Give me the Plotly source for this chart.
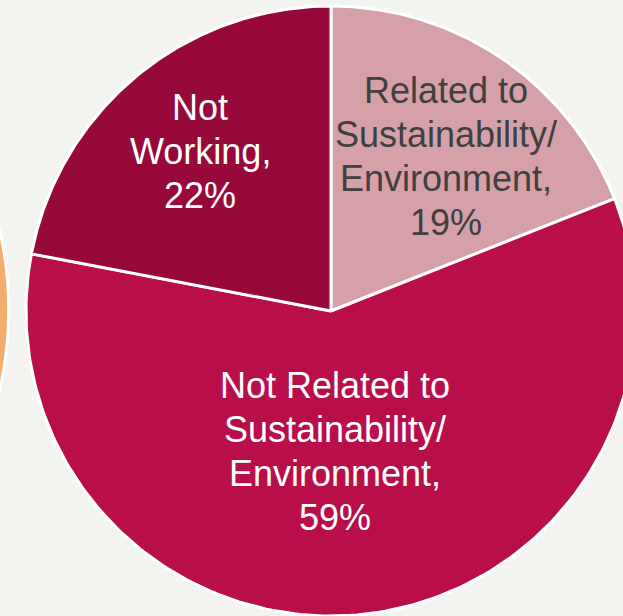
import numpy as np
import plotly.graph_objects as go

# Employment status shares (percent), clockwise from 12 o'clock
labels = ["Related to<br>Sustainability/<br>Environment",
          "Not Related to<br>Sustainability/<br>Environment",
          "Not<br>Working"]
values = [19, 59, 22]
colors = ["#D5A0A8", "#B80E49", "#96093A"]
text_colors = ["#404040", "#FFFFFF", "#FFFFFF"]

W, H = 623, 616
CX, CY, R = 331, 311, 305          # pie centre and radius in pixel units
BG = "#F3F4EF"
LINE_GAP = 44                      # spacing between label lines, px

fig = go.Figure()

# neighbouring pie, only its right rim shows at the left edge
NR = 360
fig.add_shape(type="circle", xref="x", yref="y",
              x0=8.7 - 2 * NR, x1=8.7, y0=310 - NR, y1=310 + NR,
              fillcolor="#F4AE6C", line=dict(color="white", width=3),
              layer="below")

fractions = np.array(values, dtype=float) / np.sum(values)
bounds = np.concatenate([[0.0], np.cumsum(fractions)]) * 2 * np.pi
label_pos = [(446, 156), (335, 451), (200, 151)]

for i in range(len(values)):
    theta = np.linspace(bounds[i], bounds[i + 1], 200)
    xs = np.concatenate([[CX], CX + R * np.sin(theta), [CX]])
    ys = np.concatenate([[CY], CY - R * np.cos(theta), [CY]])
    fig.add_trace(go.Scatter(
        x=xs, y=ys, mode="lines", fill="toself",
        fillcolor=colors[i], line=dict(color="white", width=3),
        hoverinfo="skip", showlegend=False))

    # label lines: category text, then its percentage
    lines = f"{labels[i]},<br>{values[i]}%".split("<br>")
    n = len(lines)
    for k, line in enumerate(lines):
        fig.add_annotation(
            x=label_pos[i][0],
            y=label_pos[i][1] + (k - (n - 1) / 2) * LINE_GAP,
            xref="x", yref="y", text=line, showarrow=False,
            xanchor="center", yanchor="middle", align="center",
            font=dict(family="Liberation Sans, Arial, sans-serif",
                      size=36, color=text_colors[i]))

fig.update_layout(
    width=W, height=H, margin=dict(l=0, r=0, t=0, b=0),
    paper_bgcolor=BG, plot_bgcolor=BG,
    xaxis=dict(range=[0, W], visible=False, fixedrange=True),
    yaxis=dict(range=[H, 0], visible=False, fixedrange=True),
)

fig.write_html("out.html", config={"displayModeBar": False})
